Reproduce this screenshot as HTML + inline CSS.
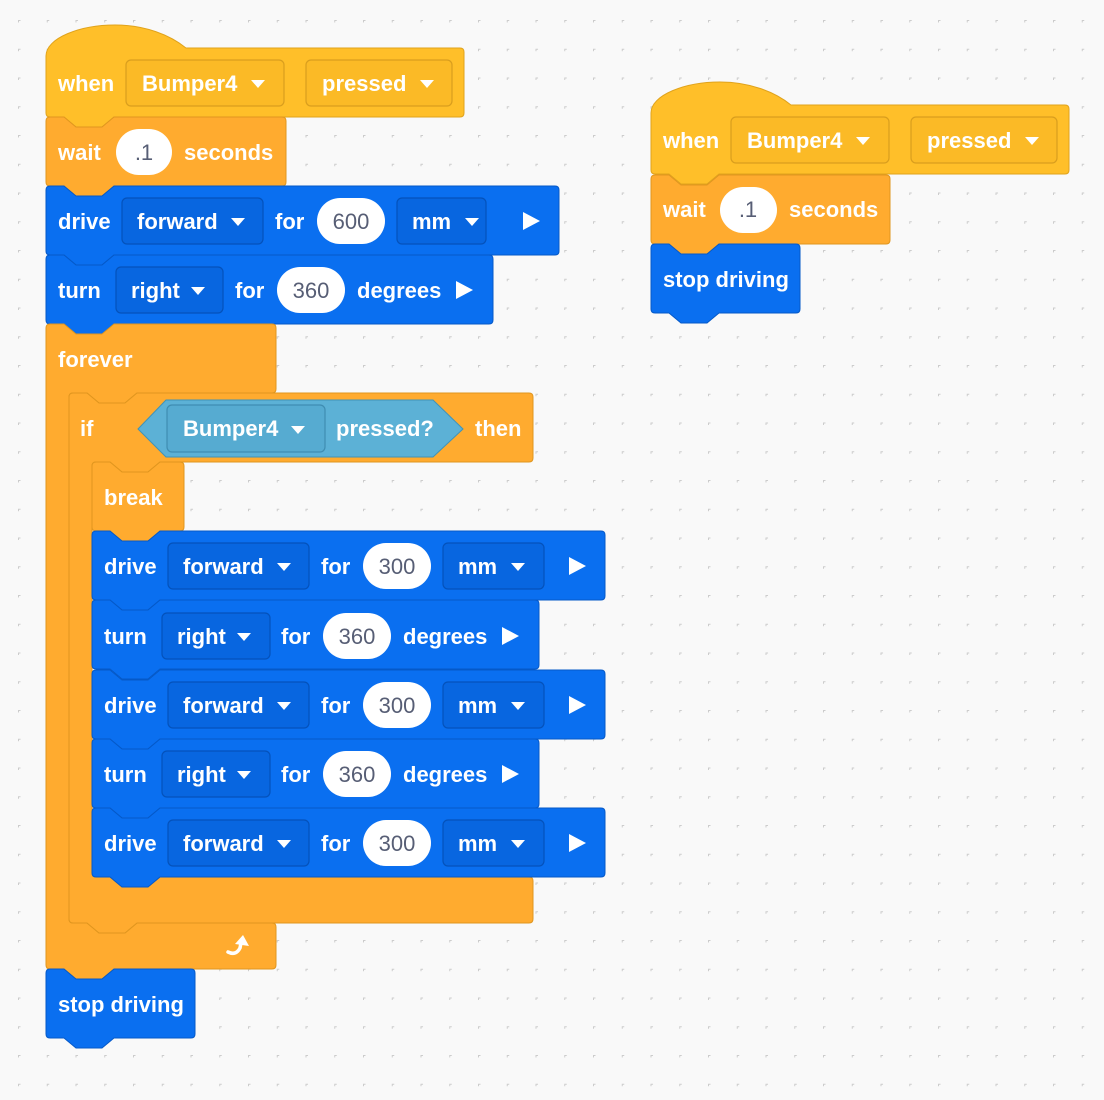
<!DOCTYPE html>
<html><head><meta charset="utf-8"><style>
html,body{margin:0;padding:0;background:#f9f9f9;}
svg{display:block;}
.t{font-family:"Liberation Sans",Arial,sans-serif;font-weight:bold;font-size:22px;fill:#fff;}
.n{font-family:"Liberation Sans",Arial,sans-serif;font-size:22px;fill:#575e75;}
.y{fill:#ffbf29;stroke:#e0a31c;stroke-width:1;}
.o{fill:#ffab2f;stroke:#e0961f;stroke-width:1;}
.b{fill:#0a6ff0;stroke:#0559c8;stroke-width:1;}
.fy{fill:#fbba26;stroke:#d99e1e;stroke-width:1.2;}
.fb{fill:#0866e0;stroke:#0452bb;stroke-width:1.2;}
.fs{fill:#56abd1;stroke:#3f8db2;stroke-width:1.2;}
.ov{fill:#fff;}
.w{fill:#fff;}
</style></head><body>
<svg width="1104" height="1100" viewBox="0 0 1104 1100" xmlns="http://www.w3.org/2000/svg">
<defs>
<pattern id="g" x="18" y="20" width="28.75" height="28.75" patternUnits="userSpaceOnUse">
<path d="M0,-2v4M-2,0h4" stroke="#ccc" stroke-width="1" transform="translate(0.5,0.5)"/>
</pattern>
</defs>
<rect width="1104" height="1100" fill="#f9f9f9"/>
<rect width="1104" height="1100" fill="url(#g)"/>

<!-- LEFT STACK -->
<path class="y" d="M46,56 C46,38 80,25 115,25 C145,25 170,35 186,48 h274 q4,0 4,4 v61 q0,4 -4,4 h-346 l-12,10 h-26 l-12,-10 h-14 q-4,0 -4,-4 z"/>
<text class="t" x="58" y="91">when</text>
<rect class="fy" x="126" y="60" width="158" height="46" rx="5"/>
<text class="t" x="142" y="91">Bumper4</text>
<polygon class="w" points="251,80 265,80 258,88"/>
<rect class="fy" x="306" y="60" width="146" height="46" rx="5"/>
<text class="t" x="322" y="91">pressed</text>
<polygon class="w" points="420,80 434,80 427,88"/>

<path class="o" d="M46,121 q0,-4 4,-4 h14 l12,10 h26 l12,-10 h168 q4,0 4,4 v61 q0,4 -4,4 h-168 l-12,10 h-26 l-12,-10 h-14 q-4,0 -4,-4 z"/>
<text class="t" x="58" y="160">wait</text>
<rect class="ov" x="116" y="129" width="56" height="46" rx="23"/>
<text class="n" x="144" y="160" text-anchor="middle">.1</text>
<text class="t" x="184" y="160">seconds</text>

<path class="b" d="M46,190 q0,-4 4,-4 h14 l12,10 h26 l12,-10 h441 q4,0 4,4 v61 q0,4 -4,4 h-441 l-12,10 h-26 l-12,-10 h-14 q-4,0 -4,-4 z"/>
<text class="t" x="58" y="229">drive</text>
<rect class="fb" x="122" y="198" width="141" height="46" rx="5"/>
<text class="t" x="137" y="229">forward</text>
<polygon class="w" points="231,218 245,218 238,226"/>
<text class="t" x="275" y="229">for</text>
<rect class="ov" x="317" y="198" width="68" height="46" rx="23"/>
<text class="n" x="351" y="229" text-anchor="middle">600</text>
<rect class="fb" x="397" y="198" width="89" height="46" rx="5"/>
<text class="t" x="412" y="229">mm</text>
<polygon class="w" points="465,218 479,218 472,226"/>
<polygon class="w" points="523,212 540,221 523,230"/>

<path class="b" d="M46,259 q0,-4 4,-4 h14 l12,10 h26 l12,-10 h375 q4,0 4,4 v61 q0,4 -4,4 h-375 l-12,10 h-26 l-12,-10 h-14 q-4,0 -4,-4 z"/>
<text class="t" x="58" y="298">turn</text>
<rect class="fb" x="116" y="267" width="107" height="46" rx="5"/>
<text class="t" x="131" y="298">right</text>
<polygon class="w" points="191,287 205,287 198,295"/>
<text class="t" x="235" y="298">for</text>
<rect class="ov" x="277" y="267" width="68" height="46" rx="23"/>
<text class="n" x="311" y="298" text-anchor="middle">360</text>
<text class="t" x="357" y="298">degrees</text>
<polygon class="w" points="456,281 473,290 456,299"/>

<!-- forever -->
<path class="o" d="M46,328 q0,-4 4,-4 h14 l12,10 h26 l12,-10 H272 q4,0 4,4 V389 q0,4 -4,4 H137 l-12,10 h-26 l-12,-10 H73 q-4,0 -4,4 V919 q0,4 4,4 H87 l12,10 h26 l12,-10 H272 q4,0 4,4 V965 q0,4 -4,4 H114 l-12,10 h-26 l-12,-10 H50 q-4,0 -4,-4 Z"/>
<text class="t" x="58" y="367">forever</text>
<path d="M228,952 Q236,956 240,948 L241,943" fill="none" stroke="#fff" stroke-width="3.5" stroke-linecap="round"/>
<polygon class="w" points="235,944 243,935 249,946"/>

<!-- if -->
<path class="o" d="M69,397 q0,-4 4,-4 h14 l12,10 h26 l12,-10 H529 q4,0 4,4 V458 q0,4 -4,4 H160 l-12,10 h-26 l-12,-10 H96 q-4,0 -4,4 V873 q0,4 4,4 H110 l12,10 h26 l12,-10 H529 q4,0 4,4 V919 q0,4 -4,4 H137 l-12,10 h-26 l-12,-10 H73 q-4,0 -4,-4 Z"/>
<text class="t" x="80" y="436">if</text>
<polygon points="138,429 166,400 433,400 463,429 433,457 166,457" fill="#5cb1d6" stroke="#3f93b8" stroke-width="1"/>
<rect class="fs" x="167" y="405" width="158" height="47" rx="5"/>
<text class="t" x="183" y="436">Bumper4</text>
<polygon class="w" points="291,426 305,426 298,434"/>
<text class="t" x="336" y="436">pressed?</text>
<text class="t" x="475" y="436">then</text>

<!-- break -->
<path class="o" d="M92,466 q0,-4 4,-4 h14 l12,10 h26 l12,-10 h20 q4,0 4,4 v61 q0,4 -4,4 h-20 l-12,10 h-26 l-12,-10 h-14 q-4,0 -4,-4 z"/>
<text class="t" x="104" y="505">break</text>

<!-- inner drive 1 -->
<path class="b" d="M92,535 q0,-4 4,-4 h14 l12,10 h26 l12,-10 h441 q4,0 4,4 v61 q0,4 -4,4 h-441 l-12,10 h-26 l-12,-10 h-14 q-4,0 -4,-4 z"/>
<text class="t" x="104" y="574">drive</text>
<rect class="fb" x="168" y="543" width="141" height="46" rx="5"/>
<text class="t" x="183" y="574">forward</text>
<polygon class="w" points="277,563 291,563 284,571"/>
<text class="t" x="321" y="574">for</text>
<rect class="ov" x="363" y="543" width="68" height="46" rx="23"/>
<text class="n" x="397" y="574" text-anchor="middle">300</text>
<rect class="fb" x="443" y="543" width="101" height="46" rx="5"/>
<text class="t" x="458" y="574">mm</text>
<polygon class="w" points="511,563 525,563 518,571"/>
<polygon class="w" points="569,557 586,566 569,575"/>

<!-- inner turn 1 -->
<path class="b" d="M92,604 q0,-4 4,-4 h14 l12,10 h26 l12,-10 h375 q4,0 4,4 v61 q0,4 -4,4 h-375 l-12,10 h-26 l-12,-10 h-14 q-4,0 -4,-4 z"/>
<text class="t" x="104" y="644">turn</text>
<rect class="fb" x="162" y="613" width="108" height="46" rx="5"/>
<text class="t" x="177" y="644">right</text>
<polygon class="w" points="237,633 251,633 244,641"/>
<text class="t" x="281" y="644">for</text>
<rect class="ov" x="323" y="613" width="68" height="46" rx="23"/>
<text class="n" x="357" y="644" text-anchor="middle">360</text>
<text class="t" x="403" y="644">degrees</text>
<polygon class="w" points="502,627 519,636 502,645"/>

<!-- inner drive 2 -->
<path class="b" d="M92,674 q0,-4 4,-4 h14 l12,10 h26 l12,-10 h441 q4,0 4,4 v61 q0,4 -4,4 h-441 l-12,10 h-26 l-12,-10 h-14 q-4,0 -4,-4 z"/>
<text class="t" x="104" y="713">drive</text>
<rect class="fb" x="168" y="682" width="141" height="46" rx="5"/>
<text class="t" x="183" y="713">forward</text>
<polygon class="w" points="277,702 291,702 284,710"/>
<text class="t" x="321" y="713">for</text>
<rect class="ov" x="363" y="682" width="68" height="46" rx="23"/>
<text class="n" x="397" y="713" text-anchor="middle">300</text>
<rect class="fb" x="443" y="682" width="101" height="46" rx="5"/>
<text class="t" x="458" y="713">mm</text>
<polygon class="w" points="511,702 525,702 518,710"/>
<polygon class="w" points="569,696 586,705 569,714"/>

<!-- inner turn 2 -->
<path class="b" d="M92,743 q0,-4 4,-4 h14 l12,10 h26 l12,-10 h375 q4,0 4,4 v61 q0,4 -4,4 h-375 l-12,10 h-26 l-12,-10 h-14 q-4,0 -4,-4 z"/>
<text class="t" x="104" y="782">turn</text>
<rect class="fb" x="162" y="751" width="108" height="46" rx="5"/>
<text class="t" x="177" y="782">right</text>
<polygon class="w" points="237,771 251,771 244,779"/>
<text class="t" x="281" y="782">for</text>
<rect class="ov" x="323" y="751" width="68" height="46" rx="23"/>
<text class="n" x="357" y="782" text-anchor="middle">360</text>
<text class="t" x="403" y="782">degrees</text>
<polygon class="w" points="502,765 519,774 502,783"/>

<!-- inner drive 3 -->
<path class="b" d="M92,812 q0,-4 4,-4 h14 l12,10 h26 l12,-10 h441 q4,0 4,4 v61 q0,4 -4,4 h-441 l-12,10 h-26 l-12,-10 h-14 q-4,0 -4,-4 z"/>
<text class="t" x="104" y="851">drive</text>
<rect class="fb" x="168" y="820" width="141" height="46" rx="5"/>
<text class="t" x="183" y="851">forward</text>
<polygon class="w" points="277,840 291,840 284,848"/>
<text class="t" x="321" y="851">for</text>
<rect class="ov" x="363" y="820" width="68" height="46" rx="23"/>
<text class="n" x="397" y="851" text-anchor="middle">300</text>
<rect class="fb" x="443" y="820" width="101" height="46" rx="5"/>
<text class="t" x="458" y="851">mm</text>
<polygon class="w" points="511,840 525,840 518,848"/>
<polygon class="w" points="569,834 586,843 569,852"/>

<!-- stop driving -->
<path class="b" d="M46,973 q0,-4 4,-4 h14 l12,10 h26 l12,-10 h77 q4,0 4,4 v61 q0,4 -4,4 h-77 l-12,10 h-26 l-12,-10 h-14 q-4,0 -4,-4 z"/>
<text class="t" x="58" y="1012">stop driving</text>

<!-- RIGHT STACK -->
<path class="y" d="M651,113 C651,95 685,82 720,82 C750,82 775,92 791,105 h274 q4,0 4,4 v61 q0,4 -4,4 h-346 l-12,10 h-26 l-12,-10 h-14 q-4,0 -4,-4 z"/>
<text class="t" x="663" y="148">when</text>
<rect class="fy" x="731" y="117" width="158" height="46" rx="5"/>
<text class="t" x="747" y="148">Bumper4</text>
<polygon class="w" points="856,137 870,137 863,145"/>
<rect class="fy" x="911" y="117" width="146" height="46" rx="5"/>
<text class="t" x="927" y="148">pressed</text>
<polygon class="w" points="1025,137 1039,137 1032,145"/>

<path class="o" d="M651,179 q0,-4 4,-4 h14 l12,10 h26 l12,-10 h167 q4,0 4,4 v61 q0,4 -4,4 h-167 l-12,10 h-26 l-12,-10 h-14 q-4,0 -4,-4 z"/>
<text class="t" x="663" y="217">wait</text>
<rect class="ov" x="720" y="187" width="57" height="46" rx="23"/>
<text class="n" x="748" y="217" text-anchor="middle">.1</text>
<text class="t" x="789" y="217">seconds</text>

<path class="b" d="M651,248 q0,-4 4,-4 h14 l12,10 h26 l12,-10 h77 q4,0 4,4 v61 q0,4 -4,4 h-77 l-12,10 h-26 l-12,-10 h-14 q-4,0 -4,-4 z"/>
<text class="t" x="663" y="287">stop driving</text>
</svg>
</body></html>
